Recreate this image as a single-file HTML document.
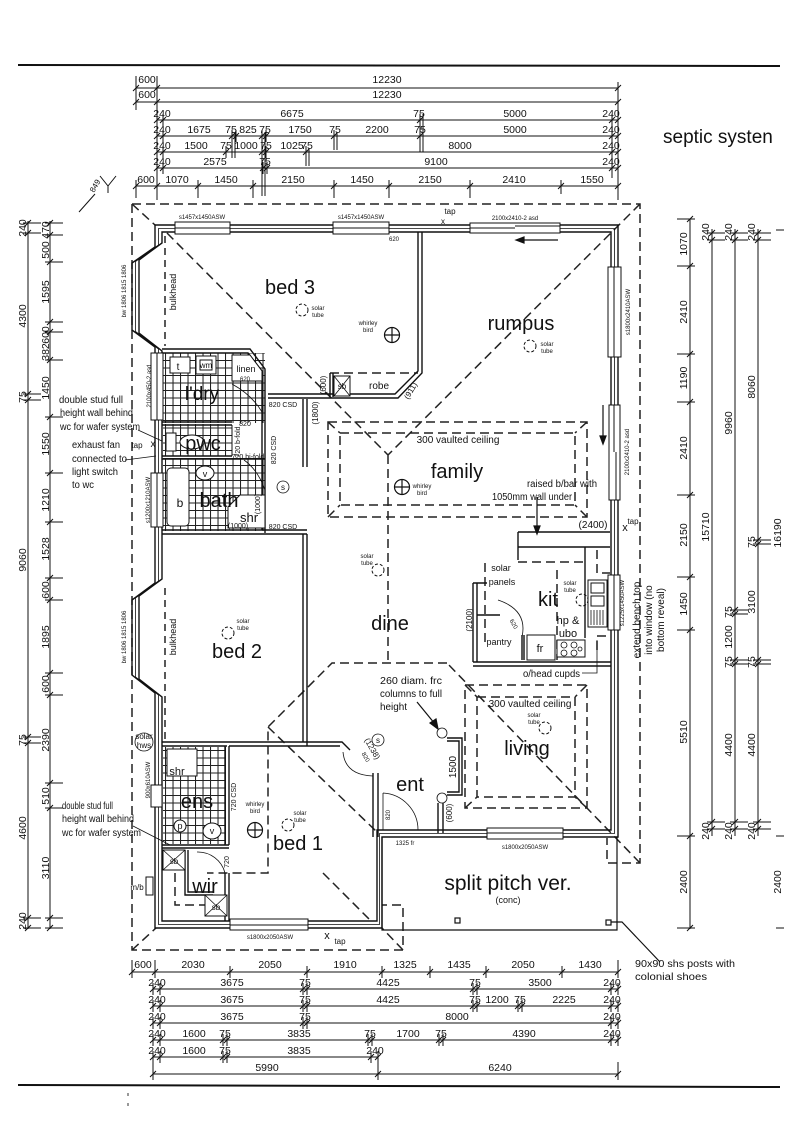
<!DOCTYPE html>
<html><head><meta charset="utf-8">
<style>
html,body{margin:0;padding:0;background:#fff;}
svg{display:block;}
text{font-family:"Liberation Sans",Arial,sans-serif;fill:#111;}
.d{font-size:10.5px;text-anchor:middle;}
.r{font-size:20px;text-anchor:middle;}
.s{font-size:6px;text-anchor:middle;}
.n{font-size:10px;}
.m{font-size:8px;text-anchor:middle;}
</style></head>
<body>
<svg width="800" height="1138" viewBox="0 0 800 1138" xmlns="http://www.w3.org/2000/svg">
<defs>
<path id="tk" d="M-3,3L3,-3M0,-6V6" stroke="#111" stroke-width="1" fill="none"/>
<path id="tl" d="M-3,3L3,-3M-5,0H13" stroke="#111" stroke-width="1" fill="none"/>
<path id="tr" d="M-3,3L3,-3M-13,0H5" stroke="#111" stroke-width="1" fill="none"/>
<pattern id="tile" width="7.5" height="7.5" patternUnits="userSpaceOnUse"><path d="M0,0.5H7.5M0.5,0V7.5" stroke="#222" stroke-width="1.1" fill="none"/></pattern>
</defs>
<rect width="800" height="1138" fill="#fff"/>

<!-- page rules -->
<line x1="18" y1="65" x2="780" y2="66" stroke="#111" stroke-width="2"/>
<line x1="18" y1="1085" x2="780" y2="1087" stroke="#111" stroke-width="2"/>
<line x1="128" y1="1093" x2="128" y2="1096" stroke="#333"/>
<line x1="128" y1="1103" x2="128" y2="1106" stroke="#333"/>
<text x="663" y="143" style="font-size:19px">septic systen</text>

<!-- ===== TOP DIMENSIONS ===== -->
<g stroke="#111" stroke-width="1" fill="none">
<line x1="136" y1="88" x2="618" y2="88"/>
<line x1="136" y1="102" x2="618" y2="102"/>
<line x1="157" y1="120" x2="618" y2="120"/>
<line x1="157" y1="136" x2="618" y2="136"/>
<line x1="157" y1="152" x2="618" y2="152"/>
<line x1="157" y1="168" x2="618" y2="168"/>
<line x1="136" y1="186" x2="618" y2="186"/>
<line x1="136" y1="76" x2="136" y2="110"/>
<line x1="157" y1="76" x2="157" y2="200"/>
<line x1="618" y1="82" x2="618" y2="200"/>
<line x1="136" y1="180" x2="136" y2="198"/>
<path d="M232,132V158M235,132V158M262,132V196M265,132V196M334,132V150M337,132V150M306,148V166M309,148V166M420,114V152M423,114V152M612,114V178"/>
</g>
<g>
<use href="#tk" x="136" y="88"/><use href="#tk" x="157" y="88"/><use href="#tk" x="618" y="88"/>
<use href="#tk" x="136" y="102"/><use href="#tk" x="157" y="102"/><use href="#tk" x="618" y="102"/>
<use href="#tk" x="157" y="120"/><use href="#tk" x="163" y="120"/><use href="#tk" x="420" y="120"/><use href="#tk" x="612" y="120"/><use href="#tk" x="618" y="120"/>
<use href="#tk" x="157" y="136"/><use href="#tk" x="163" y="136"/><use href="#tk" x="232" y="136"/><use href="#tk" x="236" y="136"/><use href="#tk" x="262" y="136"/><use href="#tk" x="266" y="136"/><use href="#tk" x="334" y="136"/><use href="#tk" x="420" y="136"/><use href="#tk" x="612" y="136"/><use href="#tk" x="618" y="136"/>
<use href="#tk" x="157" y="152"/><use href="#tk" x="163" y="152"/><use href="#tk" x="226" y="152"/><use href="#tk" x="262" y="152"/><use href="#tk" x="266" y="152"/><use href="#tk" x="306" y="152"/><use href="#tk" x="612" y="152"/><use href="#tk" x="618" y="152"/>
<use href="#tk" x="157" y="168"/><use href="#tk" x="163" y="168"/><use href="#tk" x="263" y="168"/><use href="#tk" x="267" y="168"/><use href="#tk" x="612" y="168"/><use href="#tk" x="618" y="168"/>
<use href="#tk" x="136" y="186"/><use href="#tk" x="157" y="186"/><use href="#tk" x="198" y="186"/><use href="#tk" x="253" y="186"/><use href="#tk" x="334" y="186"/><use href="#tk" x="389" y="186"/><use href="#tk" x="470" y="186"/><use href="#tk" x="561" y="186"/><use href="#tk" x="618" y="186"/>
</g>
<g stroke="#111" stroke-width="1"><path d="M198,186V198M253,186V198M334,186V198M389,186V198M470,186V198M561,186V194"/></g>
<text class="d" x="147" y="83">600</text><text class="d" x="387" y="83">12230</text>
<text class="d" x="147" y="98">600</text><text class="d" x="387" y="98">12230</text>
<text class="d" x="162" y="117">240</text><text class="d" x="292" y="117">6675</text><text class="d" x="419" y="117">75</text><text class="d" x="515" y="117">5000</text><text class="d" x="611" y="117">240</text>
<text class="d" x="162" y="133">240</text><text class="d" x="199" y="133">1675</text><text class="d" x="231" y="133">75</text><text class="d" x="248" y="133">825</text><text class="d" x="265" y="133">75</text><text class="d" x="300" y="133">1750</text><text class="d" x="335" y="133">75</text><text class="d" x="377" y="133">2200</text><text class="d" x="420" y="133">75</text><text class="d" x="515" y="133">5000</text><text class="d" x="611" y="133">240</text>
<text class="d" x="162" y="149">240</text><text class="d" x="196" y="149">1500</text><text class="d" x="226" y="149">75</text><text class="d" x="246" y="149">1000</text><text class="d" x="266" y="149">75</text><text class="d" x="292" y="149">1025</text><text class="d" x="307" y="149">75</text><text class="d" x="460" y="149">8000</text><text class="d" x="611" y="149">240</text>
<text class="d" x="162" y="165">240</text><text class="d" x="215" y="165">2575</text><text class="d" x="265" y="165">75</text><text class="d" x="436" y="165">9100</text><text class="d" x="611" y="165">240</text>
<text class="d" x="146" y="183">600</text><text class="d" x="177" y="183">1070</text><text class="d" x="226" y="183">1450</text><text class="d" x="293" y="183">2150</text><text class="d" x="362" y="183">1450</text><text class="d" x="430" y="183">2150</text><text class="d" x="514" y="183">2410</text><text class="d" x="592" y="183">1550</text>
<!-- 849 marker -->
<g stroke="#111" stroke-width="1" fill="none"><path d="M100,176L108,186L116,176M108,186V193M79,212L95,194"/></g>
<text transform="translate(94,193) rotate(-60)" style="font-size:8px">849</text>

<!-- ===== LEFT DIMENSIONS ===== -->
<g stroke="#111" stroke-width="1" fill="none"><line x1="28" y1="221" x2="28" y2="929"/><line x1="50" y1="221" x2="50" y2="929"/></g>
<g>
<use href="#tl" x="28" y="223"/><use href="#tl" x="28" y="233"/><use href="#tl" x="28" y="394"/><use href="#tl" x="28" y="400"/><use href="#tl" x="28" y="737"/><use href="#tl" x="28" y="743"/><use href="#tl" x="28" y="918"/><use href="#tl" x="28" y="928"/>
<use href="#tl" x="50" y="223"/><use href="#tl" x="50" y="235"/><use href="#tl" x="50" y="262"/><use href="#tl" x="50" y="322"/><use href="#tl" x="50" y="332"/><use href="#tl" x="50" y="360"/><use href="#tl" x="50" y="417"/><use href="#tl" x="50" y="473"/><use href="#tl" x="50" y="522"/><use href="#tl" x="50" y="578"/><use href="#tl" x="50" y="600"/><use href="#tl" x="50" y="673"/><use href="#tl" x="50" y="695"/><use href="#tl" x="50" y="783"/><use href="#tl" x="50" y="808"/><use href="#tl" x="50" y="918"/><use href="#tl" x="50" y="928"/>
</g>
<g class="d">
<text class="d" transform="translate(26,228) rotate(-90)">240</text>
<text class="d" transform="translate(26,316) rotate(-90)">4300</text>
<text class="d" transform="translate(26,397) rotate(-90)">75</text>
<text class="d" transform="translate(26,560) rotate(-90)">9060</text>
<text class="d" transform="translate(26,740) rotate(-90)">75</text>
<text class="d" transform="translate(26,828) rotate(-90)">4600</text>
<text class="d" transform="translate(26,921) rotate(-90)">240</text>
<text class="d" transform="translate(49,230) rotate(-90)">470</text>
<text class="d" transform="translate(49,250) rotate(-90)">500</text>
<text class="d" transform="translate(49,292) rotate(-90)">1595</text>
<text class="d" transform="translate(49,335) rotate(-90)">600</text>
<text class="d" transform="translate(49,352) rotate(-90)">382</text>
<text class="d" transform="translate(49,388) rotate(-90)">1450</text>
<text class="d" transform="translate(49,444) rotate(-90)">1550</text>
<text class="d" transform="translate(49,500) rotate(-90)">1210</text>
<text class="d" transform="translate(49,549) rotate(-90)">1528</text>
<text class="d" transform="translate(49,590) rotate(-90)">600</text>
<text class="d" transform="translate(49,637) rotate(-90)">1895</text>
<text class="d" transform="translate(49,684) rotate(-90)">600</text>
<text class="d" transform="translate(49,740) rotate(-90)">2390</text>
<text class="d" transform="translate(49,796) rotate(-90)">510</text>
<text class="d" transform="translate(49,868) rotate(-90)">3110</text>
</g>

<!-- ===== RIGHT DIMENSIONS ===== -->
<g stroke="#111" stroke-width="1" fill="none">
<line x1="690" y1="219" x2="690" y2="929"/>
<line x1="712" y1="229" x2="712" y2="836"/>
<line x1="735" y1="229" x2="735" y2="836"/>
<line x1="758" y1="229" x2="758" y2="836"/>
<path d="M776,230H784M776,836H784M776,928H784"/>
</g>
<g>
<use href="#tr" x="690" y="219"/><use href="#tr" x="690" y="266"/><use href="#tr" x="690" y="354"/><use href="#tr" x="690" y="402"/><use href="#tr" x="690" y="495"/><use href="#tr" x="690" y="577"/><use href="#tr" x="690" y="630"/><use href="#tr" x="690" y="836"/><use href="#tr" x="690" y="928"/>
<use href="#tl" x="712" y="233"/><use href="#tl" x="712" y="240"/><use href="#tl" x="712" y="822"/><use href="#tl" x="712" y="829"/>
<use href="#tl" x="735" y="233"/><use href="#tl" x="735" y="240"/><use href="#tl" x="735" y="610"/><use href="#tl" x="735" y="614"/><use href="#tl" x="735" y="660"/><use href="#tl" x="735" y="664"/><use href="#tl" x="735" y="822"/><use href="#tl" x="735" y="829"/>
<use href="#tl" x="758" y="233"/><use href="#tl" x="758" y="240"/><use href="#tl" x="758" y="540"/><use href="#tl" x="758" y="544"/><use href="#tl" x="758" y="660"/><use href="#tl" x="758" y="664"/><use href="#tl" x="758" y="822"/><use href="#tl" x="758" y="829"/>
</g>
<text class="d" transform="translate(687,244) rotate(-90)">1070</text>
<text class="d" transform="translate(687,312) rotate(-90)">2410</text>
<text class="d" transform="translate(687,378) rotate(-90)">1190</text>
<text class="d" transform="translate(687,448) rotate(-90)">2410</text>
<text class="d" transform="translate(687,535) rotate(-90)">2150</text>
<text class="d" transform="translate(687,604) rotate(-90)">1450</text>
<text class="d" transform="translate(687,732) rotate(-90)">5510</text>
<text class="d" transform="translate(687,882) rotate(-90)">2400</text>
<text class="d" transform="translate(709,232) rotate(-90)">240</text>
<text class="d" transform="translate(709,527) rotate(-90)">15710</text>
<text class="d" transform="translate(709,831) rotate(-90)">240</text>
<text class="d" transform="translate(732,232) rotate(-90)">240</text>
<text class="d" transform="translate(732,423) rotate(-90)">9960</text>
<text class="d" transform="translate(732,612) rotate(-90)">75</text>
<text class="d" transform="translate(732,637) rotate(-90)">1200</text>
<text class="d" transform="translate(732,662) rotate(-90)">75</text>
<text class="d" transform="translate(732,745) rotate(-90)">4400</text>
<text class="d" transform="translate(732,831) rotate(-90)">240</text>
<text class="d" transform="translate(755,232) rotate(-90)">240</text>
<text class="d" transform="translate(755,387) rotate(-90)">8060</text>
<text class="d" transform="translate(755,542) rotate(-90)">75</text>
<text class="d" transform="translate(755,602) rotate(-90)">3100</text>
<text class="d" transform="translate(755,662) rotate(-90)">75</text>
<text class="d" transform="translate(755,745) rotate(-90)">4400</text>
<text class="d" transform="translate(755,831) rotate(-90)">240</text>
<text class="d" transform="translate(781,533) rotate(-90)">16190</text>
<text class="d" transform="translate(781,882) rotate(-90)">2400</text>

<!-- ===== BOTTOM DIMENSIONS ===== -->
<g stroke="#111" stroke-width="1" fill="none">
<line x1="132" y1="972" x2="618" y2="972"/>
<line x1="153" y1="989" x2="618" y2="989"/>
<line x1="153" y1="1006" x2="618" y2="1006"/>
<line x1="153" y1="1023" x2="618" y2="1023"/>
<line x1="153" y1="1040" x2="618" y2="1040"/>
<line x1="153" y1="1057" x2="378" y2="1057"/>
<line x1="153" y1="1074" x2="618" y2="1074"/>
<path d="M153,1062V1080M378,1062V1080M618,1062V1080M132,960V978M155,960V978M618,960V978"/>
</g>
<g>
<use href="#tk" x="132" y="972"/><use href="#tk" x="155" y="972"/><use href="#tk" x="230" y="972"/><use href="#tk" x="307" y="972"/><use href="#tk" x="382" y="972"/><use href="#tk" x="430" y="972"/><use href="#tk" x="486" y="972"/><use href="#tk" x="562" y="972"/><use href="#tk" x="618" y="972"/>
<use href="#tk" x="153" y="989"/><use href="#tk" x="160" y="989"/><use href="#tk" x="303" y="989"/><use href="#tk" x="307" y="989"/><use href="#tk" x="473" y="989"/><use href="#tk" x="477" y="989"/><use href="#tk" x="611" y="989"/><use href="#tk" x="618" y="989"/>
<use href="#tk" x="153" y="1006"/><use href="#tk" x="160" y="1006"/><use href="#tk" x="303" y="1006"/><use href="#tk" x="307" y="1006"/><use href="#tk" x="473" y="1006"/><use href="#tk" x="477" y="1006"/><use href="#tk" x="518" y="1006"/><use href="#tk" x="522" y="1006"/><use href="#tk" x="611" y="1006"/><use href="#tk" x="618" y="1006"/>
<use href="#tk" x="153" y="1023"/><use href="#tk" x="160" y="1023"/><use href="#tk" x="303" y="1023"/><use href="#tk" x="307" y="1023"/><use href="#tk" x="611" y="1023"/><use href="#tk" x="618" y="1023"/>
<use href="#tk" x="153" y="1040"/><use href="#tk" x="160" y="1040"/><use href="#tk" x="223" y="1040"/><use href="#tk" x="227" y="1040"/><use href="#tk" x="368" y="1040"/><use href="#tk" x="372" y="1040"/><use href="#tk" x="439" y="1040"/><use href="#tk" x="443" y="1040"/><use href="#tk" x="611" y="1040"/><use href="#tk" x="618" y="1040"/>
<use href="#tk" x="153" y="1057"/><use href="#tk" x="160" y="1057"/><use href="#tk" x="223" y="1057"/><use href="#tk" x="227" y="1057"/><use href="#tk" x="371" y="1057"/><use href="#tk" x="378" y="1057"/>
<use href="#tk" x="153" y="1074"/><use href="#tk" x="378" y="1074"/><use href="#tk" x="618" y="1074"/>
</g>
<text class="d" x="143" y="968">600</text><text class="d" x="193" y="968">2030</text><text class="d" x="270" y="968">2050</text><text class="d" x="345" y="968">1910</text><text class="d" x="405" y="968">1325</text><text class="d" x="459" y="968">1435</text><text class="d" x="523" y="968">2050</text><text class="d" x="590" y="968">1430</text>
<text class="d" x="157" y="986">240</text><text class="d" x="232" y="986">3675</text><text class="d" x="305" y="986">75</text><text class="d" x="388" y="986">4425</text><text class="d" x="475" y="986">75</text><text class="d" x="540" y="986">3500</text><text class="d" x="612" y="986">240</text>
<text class="d" x="157" y="1003">240</text><text class="d" x="232" y="1003">3675</text><text class="d" x="305" y="1003">75</text><text class="d" x="388" y="1003">4425</text><text class="d" x="475" y="1003">75</text><text class="d" x="497" y="1003">1200</text><text class="d" x="520" y="1003">75</text><text class="d" x="564" y="1003">2225</text><text class="d" x="612" y="1003">240</text>
<text class="d" x="157" y="1020">240</text><text class="d" x="232" y="1020">3675</text><text class="d" x="305" y="1020">75</text><text class="d" x="457" y="1020">8000</text><text class="d" x="612" y="1020">240</text>
<text class="d" x="157" y="1037">240</text><text class="d" x="194" y="1037">1600</text><text class="d" x="225" y="1037">75</text><text class="d" x="299" y="1037">3835</text><text class="d" x="370" y="1037">75</text><text class="d" x="408" y="1037">1700</text><text class="d" x="441" y="1037">75</text><text class="d" x="524" y="1037">4390</text><text class="d" x="612" y="1037">240</text>
<text class="d" x="157" y="1054">240</text><text class="d" x="194" y="1054">1600</text><text class="d" x="225" y="1054">75</text><text class="d" x="299" y="1054">3835</text><text class="d" x="375" y="1054">240</text>
<text class="d" x="267" y="1071">5990</text><text class="d" x="500" y="1071">6240</text>
<text x="635" y="967" class="n" textLength="100" lengthAdjust="spacingAndGlyphs">90x90 shs posts with</text>
<text x="635" y="980" class="n" textLength="72" lengthAdjust="spacingAndGlyphs">colonial shoes</text>

<!-- ===== EAVES (dashed) ===== -->
<g stroke="#222" stroke-width="1.5" fill="none" stroke-dasharray="9,5">
<path d="M132,204H640V863H607V838"/>
<path d="M132,204V950H403V905H382"/>
<path d="M132,204L155,225M640,204L388,455M167,233L388,455M388,455V663"/>
<path d="M132,950L156,928M403,950L382,928M640,863L447,663"/>
<path d="M447,663H332L268,727V873H207M268,727L378,833M323,873L372,922"/>
<path d="M165,236V346M165,588V740" stroke-dasharray="7,5"/>
<rect x="328" y="422" width="259" height="95"/>
<rect x="340" y="433" width="235" height="72"/>
<path d="M328,422L340,433M587,422L575,433M328,517L340,505M587,517L575,505"/>
<rect x="465" y="685" width="122" height="123"/>
<rect x="477" y="697" width="98" height="100"/>
<path d="M465,685L477,697M587,685L575,697M465,808L477,797M587,808L575,797"/>
<path d="M485,563V643M557,570V660M518,562H583M597,550V573H610M597,650V636H611"/>
<path d="M175,873V905H205"/>
<path d="M330,373H418"/>
</g>

<!-- ===== TILES ===== -->
<rect x="163" y="353" width="102" height="70" fill="url(#tile)"/>
<rect x="163" y="424" width="69" height="32" fill="url(#tile)"/>
<rect x="163" y="458" width="102" height="73" fill="url(#tile)"/>
<rect x="163" y="747" width="63" height="97" fill="url(#tile)"/>

<!-- ===== WALLS ===== -->
<g stroke="#111" stroke-width="1.4" fill="none">
<path d="M155,225H618V837H382V928H155V693L132,675V600L155,583V347L132,330V263L155,247Z"/>
<path d="M162,232H611V830H377V921H162V697L139,679V596L162,579V351L139,333V260L162,243Z"/>
<path d="M158.5,228.5H614.5V833.5H379.5V924.5H158.5V695L135.5,677V598L158.5,581V349L135.5,331.5V261.5L158.5,245Z" stroke-width="0.8"/>
<path d="M418,232V371L395,394H268M422,232V373L398,398H268"/>
<path d="M330,373V397M333,373V397"/>
<path d="M303,399V467M307,399V467"/>
<path d="M162,349H250L265,369V533M162,353H248L262,371V530"/>
<path d="M162,422H232M162,425H232M162,456H232M162,459H265M162,530H307M162,534H307"/>
<path d="M232,425V456" stroke-width="1"/>
<path d="M303,534V742M307,534V746"/>
<path d="M162,742H342L350,750M162,746H227M229,746H340"/>
<path d="M225,746V845M229,746V845M162,845H229M162,848H229"/>
<path d="M185,850V895H213M188,850V892H213"/>
<path d="M225,873V921M229,873V921"/>
<path d="M373,773V837M378,773V837"/>
<path d="M438,803V833M443,803V833"/>
<path d="M447,738H462V795H447M447,741H459V792H447"/>
<path d="M518,532H610M518,547H610M518,532V560"/>
<path d="M473,583V662M477,583V662M473,583H487M477,615H500M473,662H611M473,666H611"/>
<path d="M522,635V660M524,635V660M585,547V638"/>
</g>

<!-- verandah -->
<g stroke="#111" stroke-width="1.2" fill="none">
<path d="M382,837V930H617V837"/>
<rect x="455" y="918" width="5" height="5"/>
<rect x="606" y="920" width="5" height="5"/>
<path d="M611,922H622L660,962"/>
</g>

<!-- ===== WINDOWS ===== -->
<g stroke="#111" stroke-width="1" fill="#fff">
<rect x="175" y="222" width="55" height="12"/><line x1="175" y1="228" x2="230" y2="228"/>
<rect x="333" y="222" width="56" height="12"/><line x1="333" y1="228" x2="389" y2="228"/>
<rect x="470" y="223" width="90" height="10"/><line x1="470" y1="228" x2="515" y2="228"/><line x1="515" y1="226" x2="560" y2="226"/>
<rect x="608" y="267" width="13" height="90"/><line x1="614" y1="267" x2="614" y2="357"/>
<rect x="609" y="405" width="11" height="95"/><line x1="614" y1="405" x2="614" y2="452"/><line x1="616" y1="452" x2="616" y2="500"/>
<rect x="608" y="575" width="12" height="55"/><line x1="614" y1="575" x2="614" y2="630"/>
<rect x="487" y="828" width="76" height="11"/><line x1="487" y1="833" x2="563" y2="833"/>
<rect x="230" y="919" width="78" height="11"/><line x1="230" y1="925" x2="308" y2="925"/>
<rect x="151" y="473" width="12" height="54"/><line x1="157" y1="473" x2="157" y2="527"/>
<rect x="151" y="353" width="12" height="67"/><line x1="157" y1="353" x2="157" y2="420"/>
<rect x="151" y="785" width="11" height="22"/>
<rect x="146" y="877" width="7" height="18"/>
</g>
<g class="s">
<text class="s" x="202" y="219">s1457x1450ASW</text>
<text class="s" x="361" y="219">s1457x1450ASW</text>
<text class="s" x="515" y="220">2100x2410-2 asd</text>
<text class="s" x="394" y="241">620</text>
<text class="s" transform="translate(630,312) rotate(-90)">s1800x2410ASW</text>
<text class="s" transform="translate(629,452) rotate(-90)">2100x2410-2 asd</text>
<text class="s" transform="translate(624,603) rotate(-90)">s1225x1450ASW</text>
<text class="s" x="525" y="849">s1800x2050ASW</text>
<text class="s" x="270" y="939">s1800x2050ASW</text>
<text class="s" x="405" y="845">1325 fr</text>
<text class="s" transform="translate(150,500) rotate(-90)">s1200x1210ASW</text>
<text class="s" transform="translate(151,386) rotate(-90)">2100x450-2 asd</text>
<text class="s" transform="translate(150,780) rotate(-90)">900x610ASW</text>
<text class="s" transform="translate(126,291) rotate(-90)">bw 1806 1815 1806</text>
<text class="s" transform="translate(126,637) rotate(-90)">bw 1806 1815 1806</text>
</g>
<text class="m" transform="translate(176,292) rotate(-90)" style="font-size:9px">bulkhead</text>
<text class="m" transform="translate(176,637) rotate(-90)" style="font-size:9px">bulkhead</text>
<text x="137" y="890" class="m">m/b</text>

<!-- taps -->
<text x="443" y="224" class="m">x</text><text x="450" y="214" class="m">tap</text>
<text x="625" y="531" style="font-size:11px" text-anchor="middle">x</text><text x="633" y="524" class="m">tap</text>
<text x="327" y="939" style="font-size:11px" text-anchor="middle">x</text><text x="340" y="944" class="m">tap</text>
<text x="153" y="447" class="m" style="font-size:10px">x</text><text x="137" y="448" class="m">tap</text>

<!-- arrows -->
<g stroke="#111" stroke-width="1.2" fill="#111">
<line x1="522" y1="240" x2="558" y2="240"/><path d="M516,240L524,237V243Z"/>
<line x1="603" y1="405" x2="603" y2="437"/><path d="M603,444L600,436H606Z"/>
<line x1="537" y1="497" x2="537" y2="527"/><path d="M537,534L534,526H540Z"/>
<line x1="417" y1="702" x2="435" y2="724"/><path d="M438,729L430,723L436,719Z"/>
</g>

<!-- ===== FIXTURES ===== -->
<g stroke="#111" stroke-width="1" fill="#fff">
<rect x="170" y="357" width="20" height="16"/>
<rect x="196" y="356" width="20" height="18"/><rect x="200" y="360" width="12" height="10"/>
<path d="M232,355H250L262,371V381H232Z"/>
<rect x="166" y="433" width="10" height="18"/>
<ellipse cx="192" cy="442" rx="12" ry="7"/>
<rect x="167" y="468" width="22" height="58" rx="4"/>
<ellipse cx="205" cy="473" rx="9" ry="7"/>
<path d="M228,528V507L240,495H265V528Z"/>
<rect x="167" y="749" width="30" height="27"/>
<circle cx="180" cy="826" r="6"/>
<ellipse cx="212" cy="831" rx="9" ry="8"/>
<rect x="334" y="376" width="16" height="20"/>
<rect x="163" y="850" width="22" height="20"/>
<rect x="205" y="895" width="22" height="21"/>
<rect x="527" y="635" width="28" height="25"/>
<rect x="557" y="640" width="28" height="17"/>
<rect x="588" y="580" width="19" height="47"/>
<rect x="591" y="583" width="13" height="10"/><rect x="591" y="596" width="13" height="10"/>
</g>
<g stroke="#111" stroke-width="0.8" fill="none">
<path d="M334,376L350,396M350,376L334,396M163,850L185,870M185,850L163,870M205,895L227,916M227,895L205,916"/>
<path d="M591,610V625M594,610V625M597,610V625M600,610V625M603,610V625"/>
<circle cx="564" cy="645" r="3"/><circle cx="574" cy="645" r="3"/><circle cx="564" cy="653" r="3"/><circle cx="574" cy="653" r="3"/><circle cx="580" cy="649" r="2"/>
<path d="M383,793V830M383,793A37,37 0 0 1 418,830"/>
<path d="M498,600Q528,610 522,637"/>
<path d="M343,752Q345,775 373,776"/>
<path d="M197,852A28,28 0 0 1 225,873"/>
<path d="M232,384Q252,395 262,412"/>
<path d="M244,460Q258,470 265,490"/>
<circle cx="442" cy="733" r="5" fill="#fff"/><circle cx="442" cy="798" r="5" fill="#fff"/>
<circle cx="283" cy="487" r="6"/><circle cx="378" cy="740" r="6"/>
<circle cx="144" cy="742" r="9"/>
<path d="M582,673H597V640"/>
<path d="M138,430L162,441M125,460L156,456M133,826L170,845"/>
</g>
<g stroke="#111" stroke-width="1" fill="none" stroke-dasharray="3,2">
<circle cx="302" cy="310" r="6"/><circle cx="530" cy="346" r="6"/><circle cx="378" cy="570" r="6"/>
<circle cx="228" cy="633" r="6"/><circle cx="545" cy="728" r="6"/><circle cx="288" cy="825" r="6"/><circle cx="582" cy="600" r="6"/>
</g>
<g stroke="#111" stroke-width="1.2" fill="none">
<circle cx="392" cy="335" r="7.5"/><path d="M384.5,335H399.5M392,327.5V342.5"/>
<circle cx="402" cy="487" r="7.5"/><path d="M394.5,487H409.5M402,479.5V494.5"/>
<circle cx="255" cy="830" r="7.5"/><path d="M247.5,830H262.5M255,822.5V837.5"/>
</g>
<g class="s">
<text class="s" x="318" y="310">solar</text><text class="s" x="318" y="317">tube</text>
<text class="s" x="547" y="346">solar</text><text class="s" x="547" y="353">tube</text>
<text class="s" x="367" y="558">solar</text><text class="s" x="367" y="565">tube</text>
<text class="s" x="243" y="623">solar</text><text class="s" x="243" y="630">tube</text>
<text class="s" x="534" y="717">solar</text><text class="s" x="534" y="724">tube</text>
<text class="s" x="300" y="815">solar</text><text class="s" x="300" y="822">tube</text>
<text class="s" x="570" y="585">solar</text><text class="s" x="570" y="592">tube</text>
<text class="s" x="368" y="325">whirley</text><text class="s" x="368" y="332">bird</text>
<text class="s" x="422" y="488">whirley</text><text class="s" x="422" y="495">bird</text>
<text class="s" x="255" y="806">whirley</text><text class="s" x="255" y="813">bird</text>
</g>

<!-- ===== ROOM LABELS ===== -->
<text class="r" x="290" y="294">bed 3</text>
<text class="r" x="521" y="330">rumpus</text>
<text class="r" x="457" y="478">family</text>
<text class="r" x="390" y="630">dine</text>
<text class="r" x="237" y="658">bed 2</text>
<text class="r" x="548" y="606">kit</text>
<text class="r" x="527" y="755">living</text>
<text class="r" x="410" y="791">ent</text>
<text class="r" x="197" y="808">ens</text>
<text class="r" x="298" y="850">bed 1</text>
<text class="r" x="205" y="893">wir</text>
<text class="r" x="202" y="400" style="font-size:19px">l'dry</text>
<text class="r" x="203" y="450">pwc</text>
<text class="r" x="219" y="507">bath</text>
<text class="r" x="508" y="890" style="font-size:21px">split pitch ver.</text>
<text class="m" x="508" y="903" style="font-size:9px">(conc)</text>

<g class="m">
<text class="m" x="379" y="389" style="font-size:10px">robe</text>
<text class="m" x="342" y="389">sb</text>
<text class="m" x="174" y="864">sb</text>
<text class="m" x="216" y="910">sb</text>
<text class="m" transform="translate(326,385) rotate(-90)">(600)</text>
<text class="m" transform="translate(318,413) rotate(-90)">(1800)</text>
<text class="m" transform="translate(413,392) rotate(-60)">(911)</text>
<text class="m" x="283" y="407" style="font-size:7px">820 CSD</text>
<text class="m" transform="translate(276,450) rotate(-90)" style="font-size:7px">820 CSD</text>
<text class="m" x="283" y="529" style="font-size:7px">820 CSD</text>
<text class="m" transform="translate(236,797) rotate(-90)" style="font-size:7px">720 CSD</text>
<text class="m" transform="translate(240,442) rotate(-90)" style="font-size:7px">720 b-fold</text>
<text class="m" x="248" y="459" style="font-size:7px">720 bi-fold</text>
<text class="m" x="245" y="426" style="font-size:7px">820</text>
<text class="m" x="245" y="381" style="font-size:6px">620</text>
<text class="m" x="178" y="370" style="font-size:10px">t</text>
<text class="m" x="206" y="368" style="font-size:8px">wm</text>
<text class="m" x="246" y="372" style="font-size:9px">linen</text>
<text class="m" x="180" y="507" style="font-size:12px">b</text>
<text class="m" x="205" y="477" style="font-size:9px">v</text>
<text class="m" x="249" y="522" style="font-size:13px">shr</text>
<text class="m" transform="translate(260,504) rotate(-90)" style="font-size:7px">(1000)</text>
<text class="m" x="238" y="528" style="font-size:7px">(1000)</text>
<text class="m" x="177" y="775" style="font-size:11px">shr</text>
<text class="m" x="180" y="829" style="font-size:9px">p</text>
<text class="m" x="212" y="834" style="font-size:9px">v</text>
<text class="m" transform="translate(229,862) rotate(-90)" style="font-size:7px">720</text>
<text class="m" x="144" y="739" style="font-size:8px">solar</text>
<text class="m" x="144" y="748" style="font-size:8px">hws</text>
<text class="m" x="283" y="490">s</text>
<text class="m" x="378" y="743">s</text>
<text class="m" transform="translate(370,750) rotate(60)">(1238)</text>
<text class="m" transform="translate(364,758) rotate(60)" style="font-size:6px">820</text>
<text class="m" transform="translate(390,815) rotate(-90)" style="font-size:6px">820</text>
<text class="m" transform="translate(456,767) rotate(-90)" style="font-size:10px">1500</text>
<text class="m" transform="translate(452,813) rotate(-90)">(600)</text>
<text class="m" transform="translate(472,620) rotate(-90)">(2100)</text>
<text class="m" x="593" y="528" style="font-size:10px">(2400)</text>
<text class="m" x="499" y="645" style="font-size:9px">pantry</text>
<text class="m" x="540" y="652" style="font-size:11px">fr</text>
<text class="m" x="568" y="624" style="font-size:11px">hp &amp;</text>
<text class="m" x="568" y="637" style="font-size:11px">ubo</text>
<text class="m" transform="translate(512,625) rotate(60)" style="font-size:6px">620</text>
<text class="m" x="501" y="571" style="font-size:9px">solar</text>
<text class="m" x="502" y="585" style="font-size:9px">panels</text>
<text class="m" x="458" y="443" style="font-size:10px">300 vaulted ceiling</text>
<text class="m" x="530" y="707" style="font-size:10px">300 vaulted ceiling</text>
</g>
<text x="527" y="487" class="n" textLength="70" lengthAdjust="spacingAndGlyphs">raised b/bar with</text>
<text x="492" y="500" class="n" textLength="80" lengthAdjust="spacingAndGlyphs">1050mm wall under</text>
<text x="523" y="677" class="n" textLength="57" lengthAdjust="spacingAndGlyphs">o/head cupds</text>
<text x="380" y="684" class="n" textLength="62" lengthAdjust="spacingAndGlyphs">260 diam. frc</text>
<text x="380" y="697" class="n" textLength="62" lengthAdjust="spacingAndGlyphs">columns to full</text>
<text x="380" y="710" class="n" textLength="27" lengthAdjust="spacingAndGlyphs">height</text>
<text transform="translate(640,620) rotate(-90)" class="n" text-anchor="middle">extend bench top</text>
<text transform="translate(652,620) rotate(-90)" class="n" text-anchor="middle">into window (no</text>
<text transform="translate(664,620) rotate(-90)" class="n" text-anchor="middle">bottom reveal)</text>

<text x="59" y="403" class="n" textLength="64" lengthAdjust="spacingAndGlyphs">double stud full</text>
<text x="60" y="416" class="n" textLength="73" lengthAdjust="spacingAndGlyphs">height wall behind</text>
<text x="60" y="430" class="n" textLength="80" lengthAdjust="spacingAndGlyphs">wc for wafer system</text>
<text x="72" y="448" class="n" textLength="48" lengthAdjust="spacingAndGlyphs">exhaust fan</text>
<text x="72" y="462" class="n" textLength="55" lengthAdjust="spacingAndGlyphs">connected to</text>
<text x="72" y="475" class="n" textLength="46" lengthAdjust="spacingAndGlyphs">light switch</text>
<text x="72" y="488" class="n" textLength="22" lengthAdjust="spacingAndGlyphs">to wc</text>
<text x="62" y="809" class="n" textLength="51" lengthAdjust="spacingAndGlyphs">double stud full</text>
<text x="62" y="822" class="n" textLength="72" lengthAdjust="spacingAndGlyphs">height wall behind</text>
<text x="62" y="836" class="n" textLength="79" lengthAdjust="spacingAndGlyphs">wc for wafer system</text>
</svg>
</body></html>
